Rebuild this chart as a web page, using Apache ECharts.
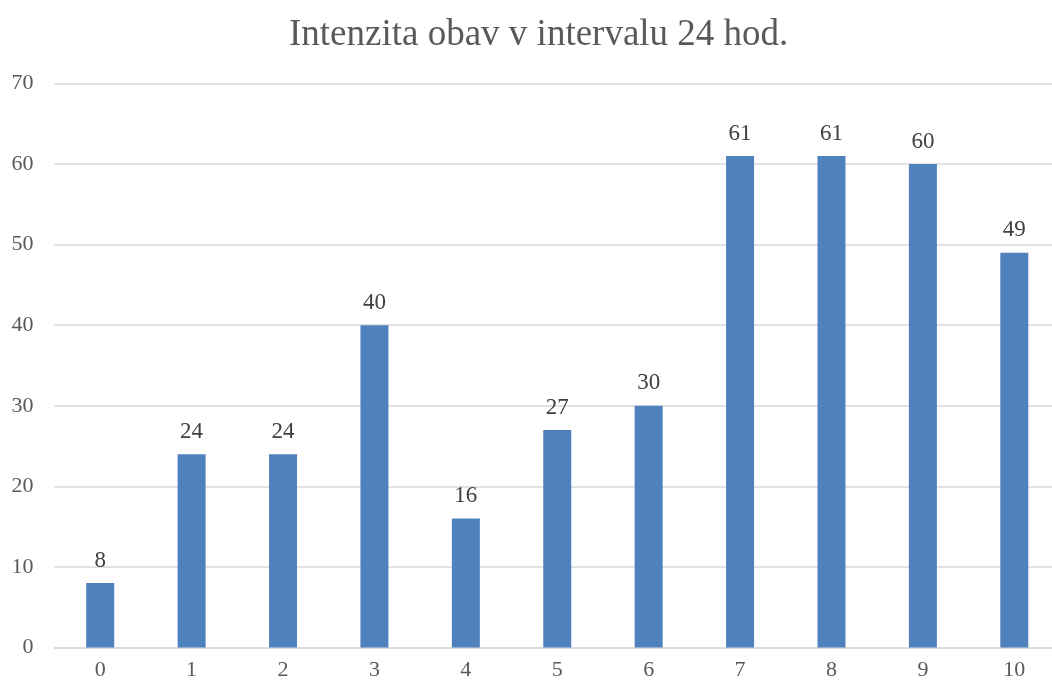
<!DOCTYPE html>
<html>
<head>
<meta charset="utf-8">
<script src="https://cdn.jsdelivr.net/npm/echarts@6/dist/echarts.min.js"></script>
<style>
  html, body { margin: 0; padding: 0; background: #fff; overflow: hidden; }
  #chart { width: 1060px; height: 684px; }
</style>
</head>
<body>
<div id="chart"></div>
<script>
  // kategorie (osa x)
  var categories = ['0', '1', '2', '3', '4', '5', '6', '7', '8', '9', '10'];
  // hodnoty
  var values = [8, 24, 24, 40, 16, 27, 30, 61, 61, 60, 49];
  var yTicks = { min: 0, max: 70, interval: 10 };

  // graf je o kousek sirsi nez okno, prava cast se orizne jako v originalu
  var chart = echarts.init(document.getElementById('chart'));
  var font = '"Liberation Serif", "Times New Roman", serif';
  var option = {
    animation: false,
    title: {
      text: 'Intenzita obav v intervalu 24 hod.',
      left: 284,
      top: 12,
      textStyle: { fontFamily: font, fontSize: 37, fontWeight: 'normal', color: '#595959' }
    },
    grid: { left: 54.5, top: 83.5, right: 0, bottom: 36.5 },
    xAxis: {
      type: 'category',
      data: categories,
      axisLine: { lineStyle: { color: '#D9D9D9', width: 1.5 } },
      axisTick: { show: false },
      axisLabel: { fontFamily: font, fontSize: 22, color: '#595959', margin: 12 }
    },
    yAxis: {
      type: 'value',
      min: yTicks.min,
      max: yTicks.max,
      interval: yTicks.interval,
      axisLine: { show: false },
      axisTick: { show: false },
      axisLabel: { fontFamily: font, fontSize: 22, color: '#595959', margin: 21 },
      splitLine: { lineStyle: { color: '#D9D9D9', width: 1.5 } }
    },
    series: [{
      type: 'bar',
      data: values,
      barWidth: 28,
      itemStyle: { color: '#4F81BD' },
      label: {
        show: true,
        position: 'top',
        distance: 11,
        fontFamily: font,
        fontSize: 23,
        color: '#404040'
      }
    }]
  };
  chart.setOption(option);
</script>
</body>
</html>
